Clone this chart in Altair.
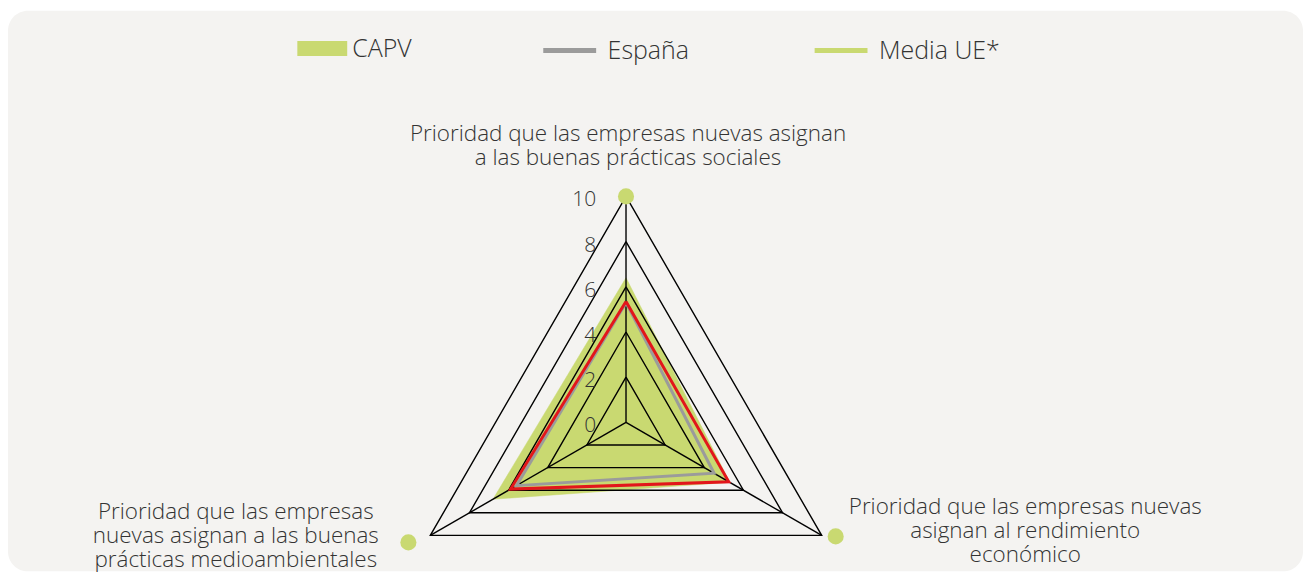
import altair as alt
import pandas as pd

# ---------------- data ----------------
axis_keys = ["social", "economico", "medioambiental"]
axis_label_top = ["Prioridad que las empresas nuevas asignan", "a las buenas prácticas sociales"]
axis_label_right = ["Prioridad que las empresas nuevas", "asignan al rendimiento", "económico"]
axis_label_left = ["Prioridad que las empresas", "nuevas asignan a las buenas", "prácticas medioambientales"]

series_names = ["CAPV", "España", "Media UE*"]
capv = [6.4, 5.3, 6.8]
espana = [5.3, 4.5, 5.6]
media_ue = [5.35, 5.25, 5.9]

ring_values = [2, 4, 6, 8, 10]
tick_values = [0, 2, 4, 6, 8, 10]
axis_max = 10

# ---------------- styles ----------------
GREEN = "#c9d971"
GRAY = "#9b9b9b"
RED = "#e2161b"
TEXT = "#333333"
BG = "#f4f3f1"
FONT = "Open Sans"

W, H = 1298, 562
XDOM = [-27.35, 29.96]
YDOM = [-6.59, 18.22]

# ---------------- tables ----------------
poly_rows = []
for name, vals in zip(series_names, [capv, espana, media_ue]):
    for k in range(4):
        i = k % 3
        poly_rows.append({"serie": name, "idx": i, "orden": k, "valor": vals[i]})
poly = pd.DataFrame(poly_rows)

ring_rows = []
for r in ring_values:
    for k in range(4):
        ring_rows.append({"anillo": r, "idx": k % 3, "orden": k, "valor": r})
rings = pd.DataFrame(ring_rows)

spokes = pd.DataFrame({"idx": [0, 1, 2], "eje": axis_keys, "valor": [axis_max] * 3})
ticks = pd.DataFrame({"valor": tick_values, "idx": [0] * len(tick_values)})
ticks["txt"] = ticks["valor"].astype(str)


def polar(ch):
    return ch.transform_calculate(
        ang="PI/2 - datum.idx*2*PI/3"
    ).transform_calculate(
        x="datum.valor*cos(datum.ang)", y="datum.valor*sin(datum.ang)"
    )


X = alt.X("x:Q", scale=alt.Scale(domain=XDOM, nice=False, zero=False), axis=None)
Y = alt.Y("y:Q", scale=alt.Scale(domain=YDOM, nice=False, zero=False), axis=None)

base_poly = polar(alt.Chart(poly))

capv_fill = base_poly.transform_filter(alt.datum.serie == "CAPV").mark_line(
    fill=GREEN, stroke=GREEN, strokeWidth=0.5
).encode(x=X, y=Y, order="orden:O")

ring_layer = polar(alt.Chart(rings)).mark_line(color="black", strokeWidth=1.4).encode(
    x=X, y=Y, detail="anillo:N", order="orden:O"
)

spoke_layer = polar(alt.Chart(spokes)).mark_rule(color="black", strokeWidth=1.4).encode(
    x=X, y=Y, x2=alt.datum(0), y2=alt.datum(0)
)

espana_line = base_poly.transform_filter(alt.datum.serie == "España").mark_line(
    color=GRAY, strokeWidth=3, strokeJoin="miter"
).encode(x=X, y=Y, order="orden:O")

ue_line = base_poly.transform_filter(alt.datum.serie == "Media UE*").mark_line(
    color=RED, strokeWidth=3, strokeJoin="miter"
).encode(x=X, y=Y, order="orden:O")

tick_layer = polar(alt.Chart(ticks)).mark_text(
    align="right", baseline="middle", dx=-30, dy=4, fontSize=21, font=FONT,
    fontWeight=300, color="#333333"
).encode(x=X, y=Y, text="txt:N")

base_spokes = polar(alt.Chart(spokes))

dot_top = base_spokes.transform_filter(alt.datum.idx == 0).mark_circle(
    size=260, color=GREEN, opacity=1
).encode(x=X, y=Y)
dot_right = base_spokes.transform_filter(alt.datum.idx == 1).mark_circle(
    size=260, color=GREEN, opacity=1, xOffset=14, yOffset=1
).encode(x=X, y=Y)
dot_left = base_spokes.transform_filter(alt.datum.idx == 2).mark_circle(
    size=260, color=GREEN, opacity=1, xOffset=-22, yOffset=7
).encode(x=X, y=Y)

LAB_FS = 22.5
LAB_LH = 24
lab_top = base_spokes.transform_filter(alt.datum.idx == 0).mark_text(
    align="center", baseline="middle", dy=-63, dx=2, fontSize=LAB_FS, font=FONT, fontWeight=300,
    color=TEXT, lineHeight=LAB_LH, text=axis_label_top
).encode(x=X, y=Y)
lab_right = base_spokes.transform_filter(alt.datum.idx == 1).mark_text(
    align="center", baseline="middle", dx=204, dy=-28, fontSize=LAB_FS, font=FONT, fontWeight=300,
    color=TEXT, lineHeight=LAB_LH, text=axis_label_right
).encode(x=X, y=Y)
lab_left = base_spokes.transform_filter(alt.datum.idx == 2).mark_text(
    align="center", baseline="middle", dx=-195, dy=-23, fontSize=LAB_FS, font=FONT, fontWeight=300,
    color=TEXT, lineHeight=LAB_LH, text=axis_label_left
).encode(x=X, y=Y)

# legends (hidden marks carrying the legend scales)
leg_fill = alt.Chart(pd.DataFrame({"serie": ["CAPV"]})).mark_point(
    opacity=0, filled=True
).encode(
    x=alt.datum(0), y=alt.datum(0),
    fill=alt.Fill("serie:N", scale=alt.Scale(domain=["CAPV"], range=[GREEN]),
                  legend=alt.Legend(orient="none", legendX=290, legendY=13, title=None,
                                    symbolType="M-1,-0.3H1V0.3H-1Z", symbolSize=2500,
                                    symbolOpacity=1, symbolStrokeWidth=0,
                                    labelFont=FONT, labelFontSize=25, labelFontWeight=300,
                                    labelColor=TEXT, labelOffset=5)),
)
leg_stroke = alt.Chart(pd.DataFrame({"serie": ["España", "Media UE*"]})).mark_point(
    opacity=0
).encode(
    x=alt.datum(0), y=alt.datum(0),
    stroke=alt.Stroke("serie:N", scale=alt.Scale(domain=["España", "Media UE*"], range=[GRAY, GREEN]),
                      legend=alt.Legend(orient="none", legendX=534, legendY=11, title=None,
                                        direction="horizontal", columns=2, columnPadding=115,
                                        symbolType="stroke", symbolSize=2809,
                                        symbolOpacity=1, symbolStrokeWidth=5,
                                        labelFont=FONT, labelFontSize=25, labelFontWeight=300,
                                        labelColor=TEXT, labelOffset=9)),
)

chart = alt.layer(
    capv_fill, ring_layer, spoke_layer, espana_line, ue_line, tick_layer,
    dot_top, dot_right, dot_left, lab_top, lab_right, lab_left, leg_fill, leg_stroke
).resolve_scale(fill="independent", stroke="independent").properties(
    width=W, height=H, background="white",
    padding={"left": 0, "top": 2, "right": 0, "bottom": 0},
    autosize=alt.AutoSizeParams(type="none"),
).configure_view(fill=BG, cornerRadius=20, strokeWidth=0)

chart.save("out.html", embed_options={"renderer": "svg", "actions": False})
